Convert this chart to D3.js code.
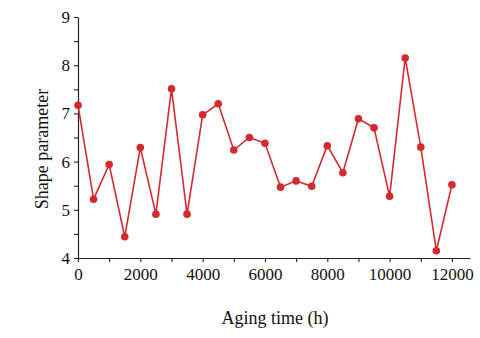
<!DOCTYPE html>
<html><head><meta charset="utf-8">
<script src="https://cdn.jsdelivr.net/npm/d3@7"></script>
<style>body{margin:0;background:#fff}svg{display:block}</style>
</head><body>
<svg id="c" width="480" height="338"></svg>
<script>
const agingTime = [0,500,1000,1500,2000,2500,3000,3500,4000,4500,5000,5500,6000,6500,7000,7500,8000,8500,9000,9500,10000,10500,11000,11500,12000];
const shapeParam = [7.17,5.22,5.94,4.44,6.29,4.91,7.51,4.91,6.97,7.20,6.24,6.50,6.38,5.47,5.60,5.49,6.33,5.77,6.89,6.70,5.28,8.15,6.30,4.15,5.52];
const xTicks = [0,2000,4000,6000,8000,10000,12000];
const yTicks = [4,5,6,7,8,9];

const svg = d3.select("#c");
const x = d3.scaleLinear().domain([0,12580]).range([78,470]);
const y = d3.scaleLinear().domain([4,9]).range([258,17]);
const font = "'Liberation Serif','Times New Roman',serif";
const col = "#d42a2f";

const xa = svg.append("g").attr("transform","translate(0,258)")
  .call(d3.axisBottom(x).tickValues(d3.range(0,12001,1000)).tickSize(4).tickSizeOuter(0)
    .tickFormat(d => xTicks.includes(d) ? d : ""));
const ya = svg.append("g").attr("transform","translate(78,0)")
  .call(d3.axisLeft(y).tickValues(d3.range(4,9.01,0.5)).tickSize(4).tickSizeOuter(0)
    .tickFormat(d => yTicks.includes(d) ? d : ""));
[xa,ya].forEach(a=>{
  a.select(".domain").attr("stroke","#222").attr("stroke-width",1.2);
  a.selectAll(".tick line").attr("stroke","#222").attr("stroke-width",1.1);
  a.selectAll("text").attr("font-family",font).attr("font-size",17).attr("fill","#111");
});
xa.selectAll("text").attr("dy","0.9em");
ya.selectAll("text").attr("dx","-1");

svg.append("path").datum(agingTime.map((t,i)=>[t,shapeParam[i]]))
  .attr("fill","none").attr("stroke",col).attr("stroke-width",1.6)
  .attr("d", d3.line().x(d=>x(d[0])).y(d=>y(d[1])));
svg.selectAll("circle.p").data(agingTime).enter().append("circle")
  .attr("cx",(t)=>x(t)).attr("cy",(t,i)=>y(shapeParam[i])).attr("r",3.8).attr("fill",col);

svg.append("text").attr("x",275).attr("y",324).attr("text-anchor","middle")
  .attr("font-family",font).attr("font-size",18).attr("fill","#111").text("Aging time (h)");
svg.append("text").attr("transform","translate(48,149) rotate(-90)").attr("text-anchor","middle")
  .attr("font-family",font).attr("font-size",18).attr("fill","#111").text("Shape parameter");
</script>
</body></html>
